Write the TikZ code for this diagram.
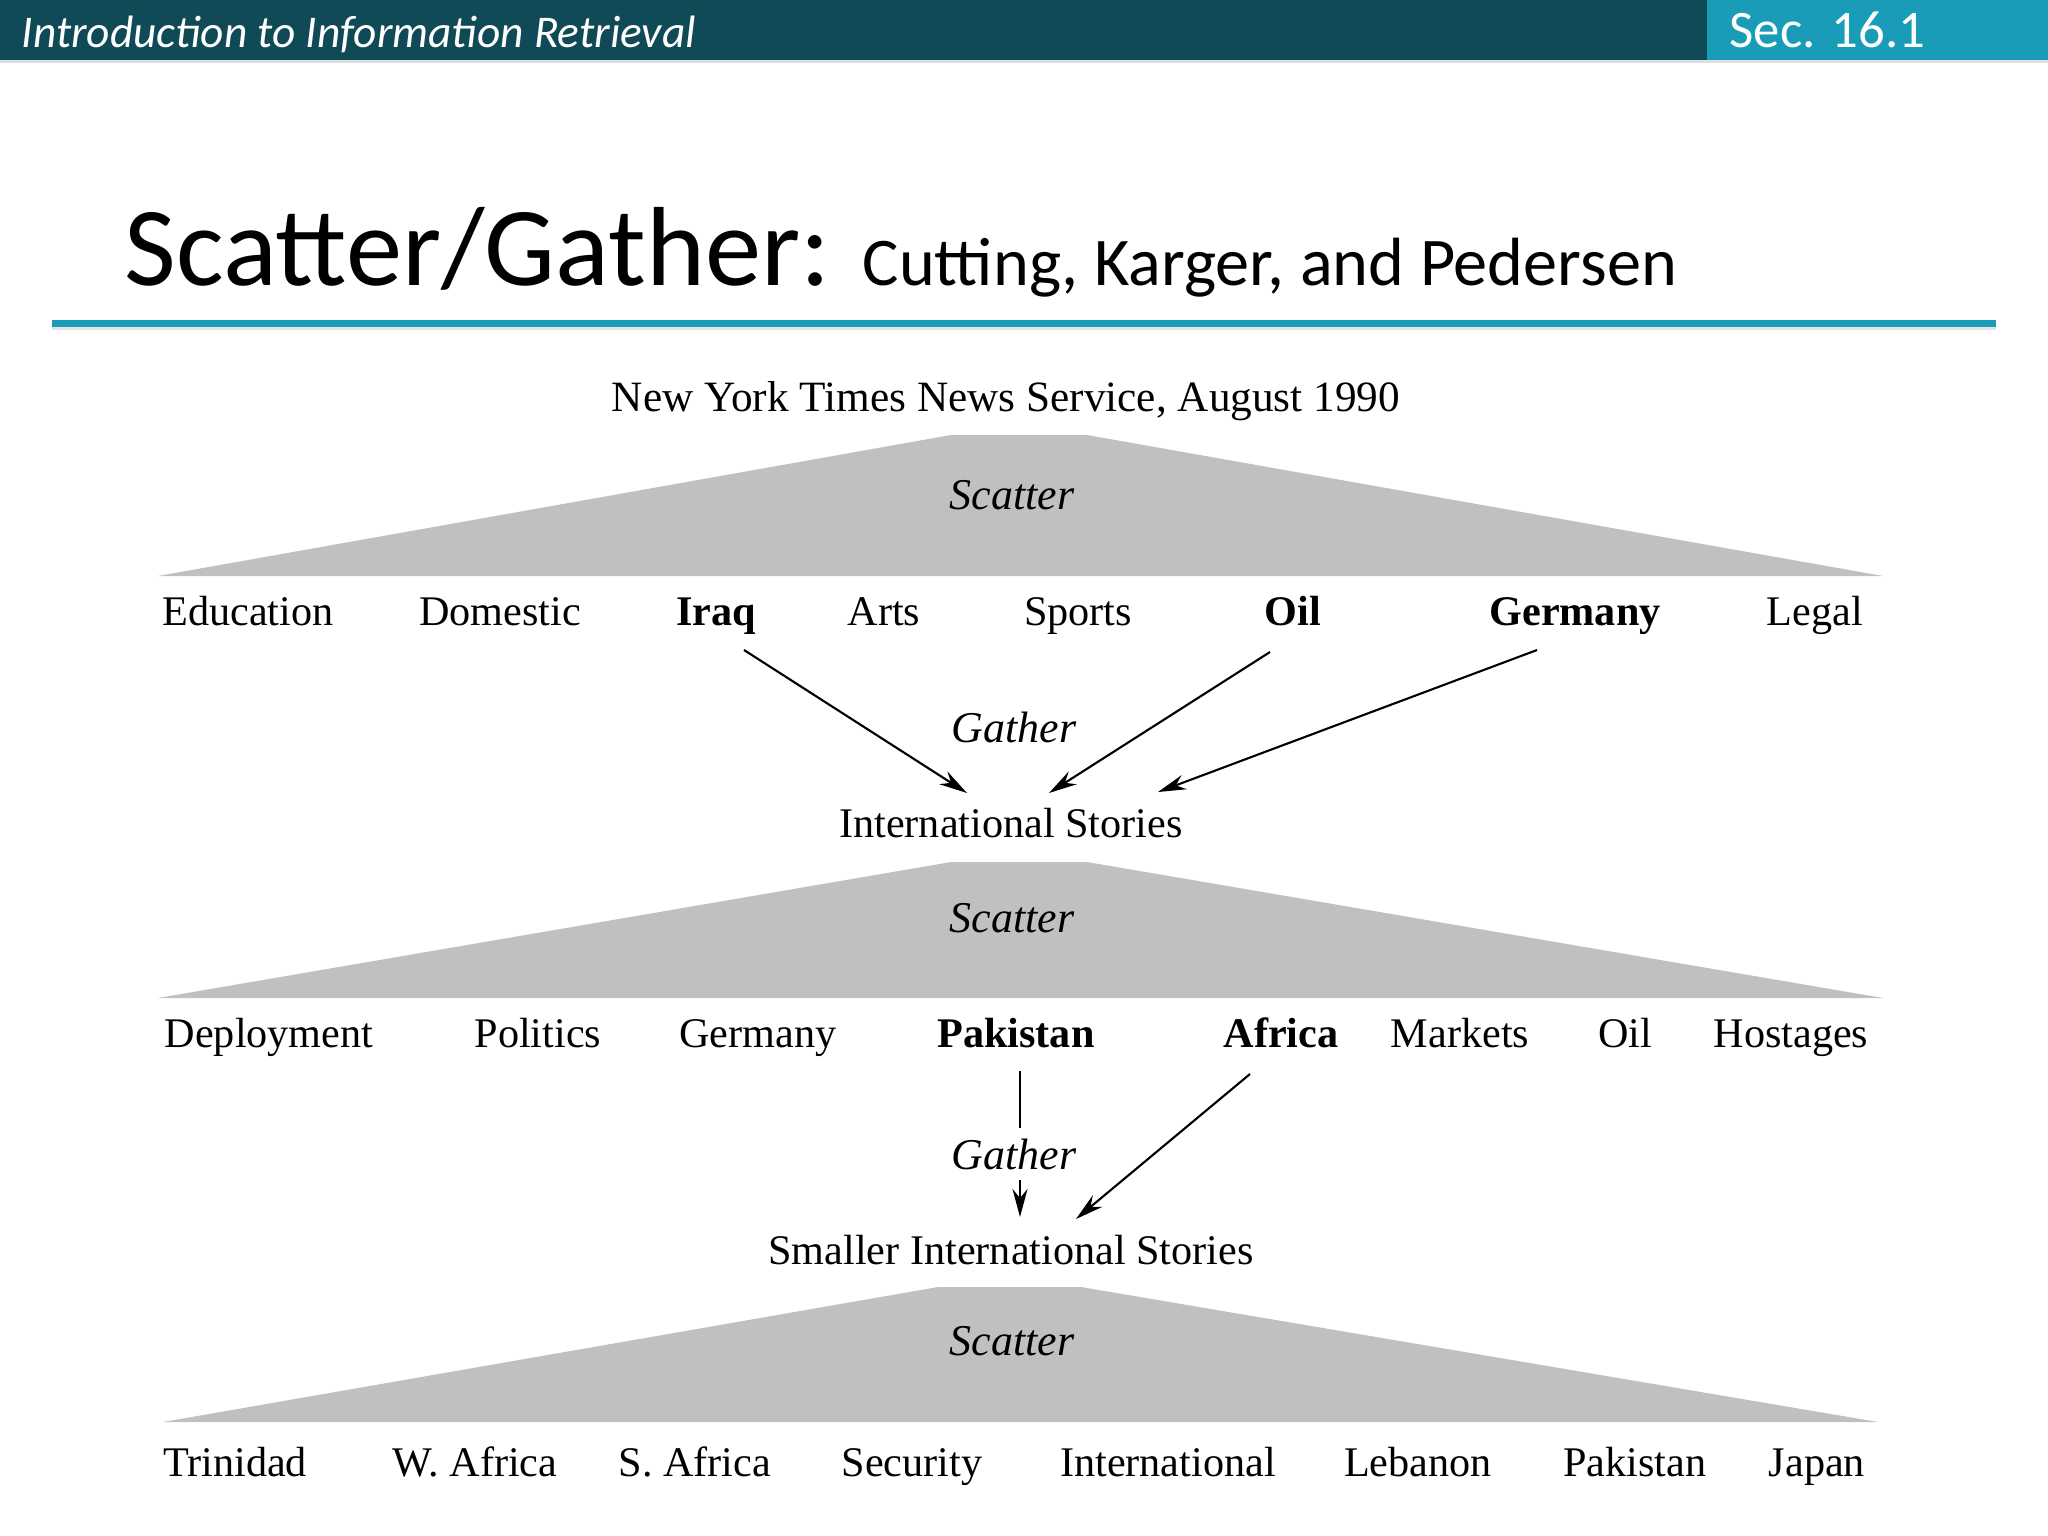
\documentclass[tikz,border=0pt]{standalone}
\usepackage{fontspec}
\setmainfont{Liberation Serif}
\newfontfamily\slidefont{Carlito}
\usetikzlibrary{arrows.meta,calc}
\definecolor{hdark}{HTML}{114A57}
\definecolor{hlight}{HTML}{1A9BB8}
\definecolor{scgray}{HTML}{C0C0C0}

\begin{document}
\begin{tikzpicture}[x=0.01cm,y=-0.01cm,
        lab/.style={anchor=base,inner sep=0pt,font=\fontsize{12}{14}\selectfont},
        blab/.style={lab,font=\fontsize{12}{14}\selectfont\bfseries},
        sc/.style={lab,font=\fontsize{12.5}{14}\selectfont\itshape},
        gat/.style={-{Stealth[length=0.28cm,width=0.15cm]},line width=0.6pt}]

    \useasboundingbox (0,0) rectangle (2048,1536);
    \fill[white] (0,0) rectangle (2048,1536);

    % slide header
    \fill[hdark] (0,0) rectangle (1707,60);
    \fill[hlight] (1707,0) rectangle (2048,60);
    \fill[gray!25] (0,60) rectangle (2048,63);
    \node[anchor=base west,inner sep=0pt,text=white,font=\slidefont\itshape\fontsize{12.9}{15}\selectfont] (course) at (21,47) {Introduction to Information Retrieval};
    \node[anchor=base west,inner sep=0pt,text=white,font=\slidefont\fontsize{15}{18}\selectfont] (sec) at (1729,47) {Sec. 16.1};

    % title
    \node[anchor=base west,inner sep=0pt,font=\slidefont\fontsize{32}{38}\selectfont] (title) at (124,285) {Scatter/Gather:};
    \node[anchor=base west,inner sep=0pt,font=\slidefont\fontsize{19.4}{24}\selectfont] (authors) at (862,285) {Cutting, Karger, and Pedersen};
    \fill[hlight] (52,320) rectangle (1996,327);
    \fill[gray!20] (52,327) rectangle (1996,330);

    % scatter shapes
    \fill[scgray] (158,576) -- (951,435) -- (1087,435) -- (1883,576) -- cycle;
    \fill[scgray] (158,998) -- (951,862) -- (1087,862) -- (1883,998) -- cycle;
    \fill[scgray] (163,1422) -- (938,1287) -- (1081,1287) -- (1878,1422) -- cycle;

    \node[lab,font=\fontsize{12.3}{14}\selectfont] (nyt) at (1006,411) {New York Times News Service, August 1990};
    \node[sc] (sc1) at (1012,509) {Scatter};

    % level 1
    \node[lab]  (edu) at (248,625)  {Education};
    \node[lab]  (dom) at (500,625)  {Domestic};
    \node[blab] (iraq) at (716,625) {Iraq};
    \node[lab]  (arts) at (884,625) {Arts};
    \node[lab]  (spo) at (1078,625) {Sports};
    \node[blab] (oil) at (1293,625) {Oil};
    \node[blab] (ger) at (1575,625) {Germany};
    \node[lab]  (leg) at (1815,625) {Legal};

    \node[sc] (ga1) at (1014,742) {Gather};
    \node[lab] (intl) at (1011,837) {International Stories};

    \draw[gat] ($(iraq.base)+(28,25)$) -- ($(intl.base)+(-44,-44)$);
    \draw[gat] ($(oil.base)+(-23,27)$) -- ($(intl.base)+(38,-44)$);
    \draw[gat] ($(ger.base)+(-38,25)$) -- ($(intl.base)+(147,-45)$);

    \node[sc] (sc2) at (1012,932) {Scatter};

    % level 2
    \node[lab]  (dep) at (269,1047)  {Deployment};
    \node[lab]  (pol) at (538,1047)  {Politics};
    \node[lab]  (ger2) at (758,1047) {Germany};
    \node[blab] (pak) at (1016,1047) {Pakistan};
    \node[blab] (afr) at (1281,1047) {Africa};
    \node[lab]  (mar) at (1460,1047) {Markets};
    \node[lab]  (oil2) at (1625,1047) {Oil};
    \node[lab]  (hos) at (1791,1047) {Hostages};

    \node[lab] (small) at (1011,1264) {Smaller International Stories};

    \draw[gat] ($(pak.base)+(4,24)$) -- ($(small.base)+(9,-47)$);
    \draw[gat] ($(afr.base)+(-31,27)$) -- ($(small.base)+(65,-45)$);
    \node[sc,fill=white,inner sep=3pt] (ga2) at (1014,1169) {Gather};

    \node[sc] (sc3) at (1012,1355) {Scatter};

    % level 3
    \node[lab] (tri) at (235,1476)  {Trinidad};
    \node[lab] (waf) at (475,1476)  {W. Africa};
    \node[lab] (saf) at (695,1476)  {S. Africa};
    \node[lab] (sec3) at (912,1476) {Security};
    \node[lab] (int3) at (1168,1476) {International};
    \node[lab] (leb) at (1418,1476) {Lebanon};
    \node[lab] (pak3) at (1635,1476) {Pakistan};
    \node[lab] (jap) at (1817,1476) {Japan};
\end{tikzpicture}
\end{document}
